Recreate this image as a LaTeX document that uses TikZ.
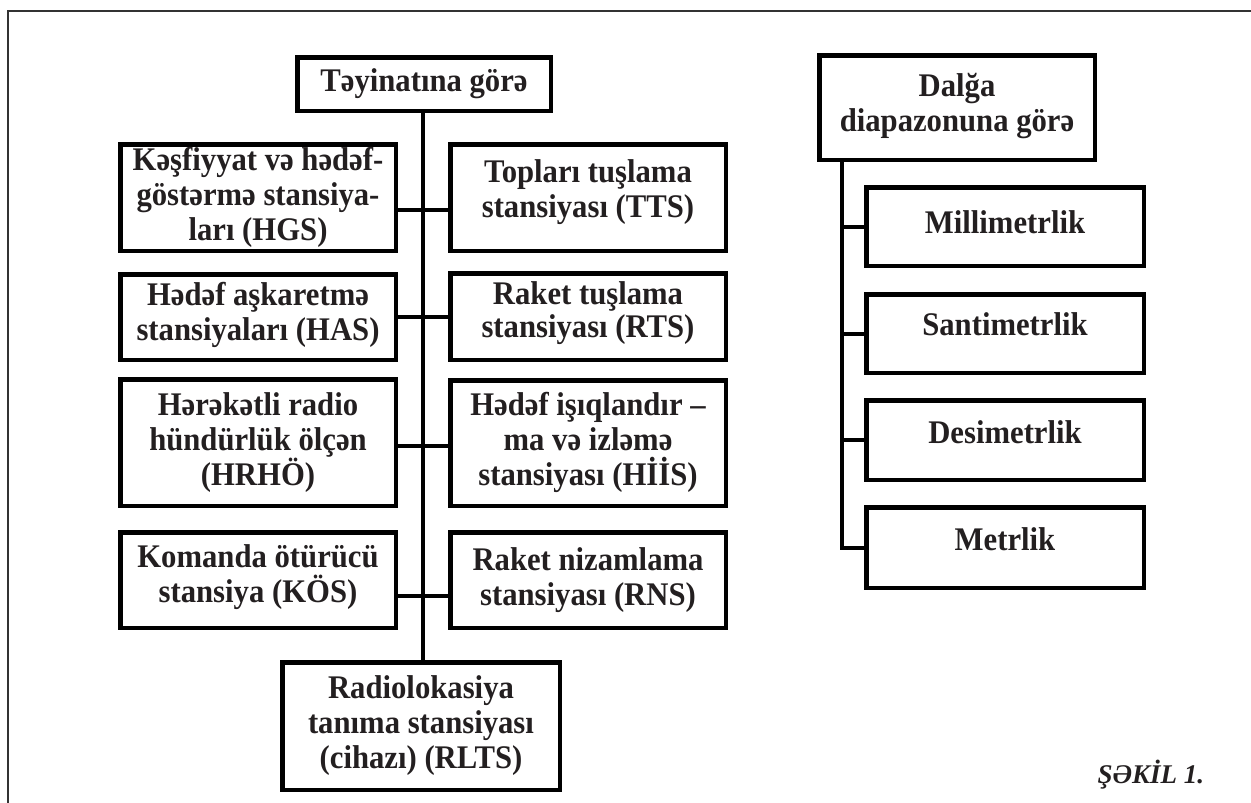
\documentclass[tikz,border=0pt]{standalone}
\usepackage{fontspec}
\setmainfont[FakeStretch=0.93]{Liberation Serif}
\newfontfamily\capfont{Liberation Serif}
\definecolor{txt}{HTML}{231F20}
\definecolor{frame}{HTML}{333333}
\newcommand\lowstrut[1]{\rule[-#1]{0pt}{#1}}
\tikzset{
  blok/.style={draw=black, line width=4.5pt, align=center, inner sep=0pt,
    text=txt, font=\bfseries\fontsize{33}{35}\selectfont},
  link/.style={draw=black, line width=4pt},
}
\begin{document}
\begin{tikzpicture}[x=1pt,y=-1pt]
  \useasboundingbox (0,0) rectangle (1251,803);
  \draw[frame, line width=2pt] (8,803) -- (8,11) -- (1252,11);

  % left tree
  \node[blok, minimum width=253.5pt, minimum height=53.5pt] (top) at (424,84) {Təyinatına görə};
  \node[blok, minimum width=275.5pt, minimum height=106.5pt] (k1) at (258,197.5)
    {Kəşfiyyat və hədəf-\\göstərmə stansiya-\\ları (HGS)};
  \node[blok, minimum width=275.5pt, minimum height=85.5pt] (k2) at (258,317)
    {Hədəf aşkaretmə\\stansiyaları (HAS)\lowstrut{11pt}};
  \node[blok, minimum width=275.5pt, minimum height=126.5pt] (k3) at (258,442.5)
    {Hərəkətli radio\\hündürlük ölçən\\(HRHÖ)};
  \node[blok, minimum width=275.5pt, minimum height=95.5pt] (k4) at (258,580)
    {Komanda ötürücü\\stansiya (KÖS)\lowstrut{13pt}};
  \node[blok, minimum width=275.5pt, minimum height=106.5pt] (t1) at (588,197.5)
    {Topları tuşlama\\stansiyası (TTS)\lowstrut{18pt}};
  \node[blok, minimum width=275.5pt, minimum height=86.5pt] (t2) at (588,316.5)
    {Raket tuşlama\\[-2pt]stansiyası (RTS)\lowstrut{14pt}};
  \node[blok, minimum width=275.5pt, minimum height=125.5pt] (t3) at (588,443)
    {Hədəf işıqlandır –\\ma və izləmə\\stansiyası (HİİS)\lowstrut{9pt}};
  \node[blok, minimum width=275.5pt, minimum height=95.5pt] (t4) at (588,580)
    {Raket nizamlama\\stansiyası (RNS)};
  \node[blok, minimum width=277.5pt, minimum height=127.5pt] (rlts) at (421,726)
    {Radiolokasiya\\tanıma stansiyası\\(cihazı) (RLTS)};

  \coordinate (r1) at (423,210);
  \coordinate (r2) at (423,317);
  \coordinate (r3) at (423,446);
  \coordinate (r4) at (423,596);
  \draw[link] (top.south -| r1) -- (r1 |- rlts.north);
  \foreach \i in {1,...,4}
    \draw[link] (k\i.east |- r\i) -- (t\i.west |- r\i);

  % right tree
  \node[blok, minimum width=275.5pt, minimum height=104.5pt] (dalga) at (957,107.5)
    {Dalğa\\diapazonuna görə\lowstrut{10pt}};
  \node[blok, minimum width=277.5pt, minimum height=78.5pt] (m1) at (1005,226.5) {Millimetrlik\lowstrut{9pt}};
  \node[blok, minimum width=277.5pt, minimum height=78.5pt] (m2) at (1005,333.5) {Santimetrlik\lowstrut{18pt}};
  \node[blok, minimum width=277.5pt, minimum height=79.5pt] (m3) at (1005,440) {Desimetrlik\lowstrut{16pt}};
  \node[blok, minimum width=277.5pt, minimum height=80.5pt] (m4) at (1005,547.5) {Metrlik\lowstrut{16pt}};

  \coordinate (rs) at (842,162);
  \draw[link] (dalga.south -| rs) -- (rs |- m4.west) -- (m4.west);
  \foreach \m in {m1,m2,m3}
    \draw[link] (rs |- \m.west) -- (\m.west);

  \node[text=txt, font=\capfont\bfseries\itshape\fontsize{27}{30}\selectfont, anchor=base west] (cap) at (1094,783) {ŞƏKİL 1.};
\end{tikzpicture}
\end{document}
